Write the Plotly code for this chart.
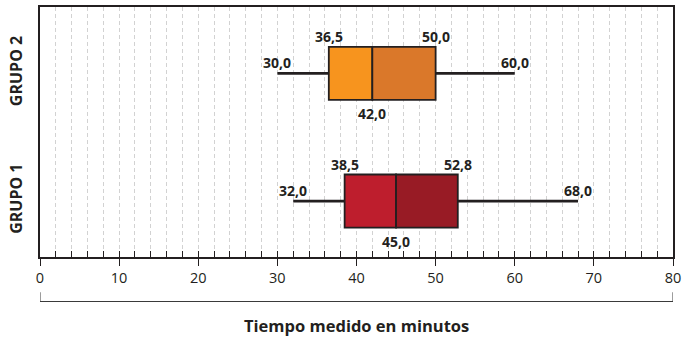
import plotly.graph_objects as go

# ---- data ----
groups = ["GRUPO 1", "GRUPO 2"]
group_pos = [0, 1]
minimum = [32.0, 30.0]
q1 = [38.5, 36.5]
median = [45.0, 42.0]
q3 = [52.8, 50.0]
maximum = [68.0, 60.0]
x_ticks = [0, 10, 20, 30, 40, 50, 60, 70, 80]
x_title = "Tiempo medido en minutos"

left_colors = ["#BE1E2D", "#F7941E"]
right_colors = ["#981B25", "#DA782A"]
ink = "#231F20"
font_family = "Open Sans"


def fmt(v):
    return f"{v:.1f}".replace(".", ",")


fig = go.Figure()

# left half of each box (Q1 -> median)
fig.add_trace(go.Bar(
    y=group_pos, x=[m - a for m, a in zip(median, q1)], base=q1,
    orientation="h", width=0.416,
    marker=dict(color=left_colors, line=dict(color=ink, width=1.8)),
    hoverinfo="skip", showlegend=False,
))
# right half of each box (median -> Q3)
fig.add_trace(go.Bar(
    y=group_pos, x=[b - m for b, m in zip(q3, median)], base=median,
    orientation="h", width=0.416,
    marker=dict(color=right_colors, line=dict(color=ink, width=1.8)),
    hoverinfo="skip", showlegend=False,
))

# whiskers
wx, wy = [], []
for g, lo, a, b, hi in zip(group_pos, minimum, q1, q3, maximum):
    wx += [lo, a, None, b, hi, None]
    wy += [g, g, None, g, g, None]
fig.add_trace(go.Scatter(
    x=wx, y=wy, mode="lines", xaxis="x2",
    line=dict(color=ink, width=2.6),
    hoverinfo="skip", showlegend=False,
))

# value labels
ann = []
lab_font = dict(family=font_family, size=14, color=ink, weight=700)
for g, lo, a, md, b, hi in zip(group_pos, minimum, q1, median, q3, maximum):
    for val, ys in [(lo, 11), (hi, 11), (a, 37), (b, 37), (md, -40)]:
        ann.append(dict(x=val, y=g, xref="x", yref="y", text=fmt(val),
                        showarrow=False, yshift=ys, xanchor="center",
                        yanchor="middle", font=lab_font))

# axis title below the bracket
ann.append(dict(x=0.5, y=-0.272, xref="paper", yref="paper", text=x_title,
                showarrow=False, xanchor="center", yanchor="middle",
                font=dict(family=font_family, size=16.5, color=ink, weight=700)))

# bracket under the axis
shapes = [
    dict(type="line", xref="x", yref="paper", x0=x_ticks[0], x1=x_ticks[-1],
         y0=-0.178, y1=-0.178, line=dict(color="#3a3a3a", width=1)),
    dict(type="line", xref="x", yref="paper", x0=x_ticks[0], x1=x_ticks[0],
         y0=-0.178, y1=-0.141, line=dict(color="#3a3a3a", width=1)),
    dict(type="line", xref="x", yref="paper", x0=x_ticks[-1], x1=x_ticks[-1],
         y0=-0.178, y1=-0.141, line=dict(color="#3a3a3a", width=1)),
]

fig.update_layout(
    width=696, height=337,
    margin=dict(l=40, r=23, t=7, b=80),
    paper_bgcolor="white", plot_bgcolor="white",
    barmode="overlay",
    font=dict(family=font_family, color=ink),
    annotations=ann,
    shapes=shapes,
    xaxis=dict(
        range=[x_ticks[0], x_ticks[-1]], automargin=False,
        tickvals=x_ticks, ticktext=[str(t) for t in x_ticks],
        ticks="outside", ticklen=7, tickwidth=1.3, tickcolor=ink,
        showline=True, linecolor=ink, linewidth=1.6, mirror=True,
        showgrid=False, zeroline=False,
        tickfont=dict(family=font_family, size=14.5, color=ink),
    ),
    xaxis2=dict(
        overlaying="x", matches="x", anchor="y", side="bottom", automargin=False,
        range=[x_ticks[0], x_ticks[-1]],
        dtick=2, tick0=0, ticks="inside", ticklen=6, tickwidth=1.2, tickcolor=ink,
        showticklabels=False, showline=False, zeroline=False,
        showgrid=True, gridcolor="#d2d2d2", gridwidth=1, griddash="4px,3px",
    ),
    yaxis=dict(
        range=[-0.438, 1.52], automargin=False,
        tickvals=group_pos, ticktext=groups, tickangle=-90,
        ticks="", ticklabelstandoff=10,
        showline=True, linecolor=ink, linewidth=1.6, mirror=True,
        showgrid=False, zeroline=False,
        tickfont=dict(family=font_family, size=16, color=ink, weight=700),
    ),
)

fig.write_html(
    "out.html",
    config={"displayModeBar": False},
    post_script="document.body.style.margin='0';document.body.style.overflow='hidden';",
)
